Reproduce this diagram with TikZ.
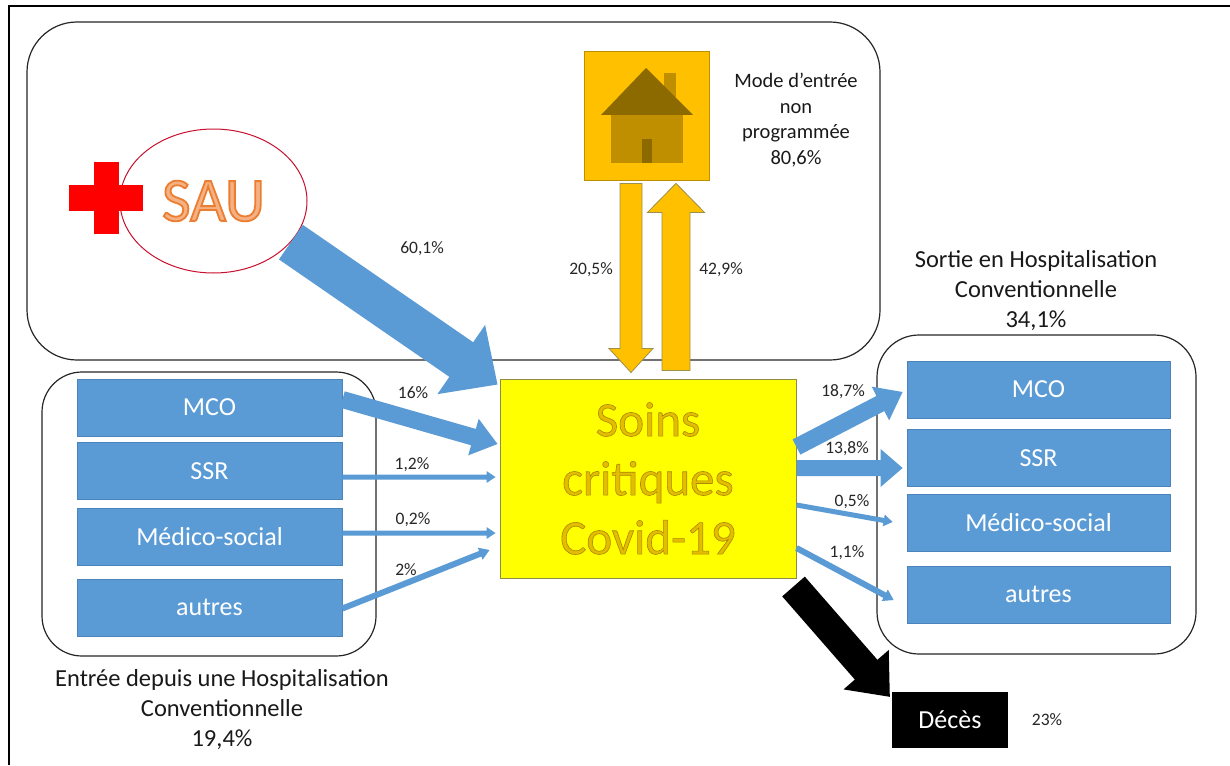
\documentclass[tikz,border=0pt]{standalone}
\usepackage{fontspec}
\setmainfont{Carlito}
\usetikzlibrary{calc,shapes.geometric}
\definecolor{bluebox}{HTML}{5B9BD5}
\definecolor{blueedge}{HTML}{4A84BA}
\definecolor{gold}{HTML}{FFC000}
\definecolor{goldedge}{HTML}{9C8F4A}
\definecolor{roof}{HTML}{8C6A00}
\definecolor{housebody}{HTML}{BF8F00}
\definecolor{soinsyellow}{HTML}{FFFF00}
\definecolor{soinsedge}{HTML}{8C8C46}
\definecolor{soinstext}{HTML}{E4BC00}
\definecolor{saufill}{HTML}{F4B183}
\definecolor{crossred}{HTML}{FF0000}
\definecolor{ellred}{HTML}{C8102E}
\newcommand\outlinetext[3]{\special{pdf:literal direct #1 RG #2 w 2 Tr}#3\special{pdf:literal direct 0 Tr}}
% style, from, to, half shaft, half head, head length
\newcommand\blockarrow[6]{%
  \coordinate (ba-h) at ($(#3)!#6!(#2)$);
  \path[#1] ($(#2)!#4!90:(#3)$) -- ($(ba-h)!#4!90:(#3)$) -- ($(ba-h)!#5!90:(#3)$) -- (#3)
    -- ($(ba-h)!#5!-90:(#3)$) -- ($(ba-h)!#4!-90:(#3)$) -- ($(#2)!#4!-90:(#3)$) -- cycle;}
\tikzset{
  roundbox/.style={draw=black!85, line width=1.2pt, rounded corners=#1, inner sep=0pt},
  bluebox/.style={fill=bluebox, draw=blueedge, line width=0.8pt, text=white, inner sep=0pt,
    minimum width=265pt, minimum height=57pt, font=\fontsize{26}{30}\selectfont},
  bluearrow/.style={fill=bluebox},
  orangearrow/.style={fill=gold, draw=goldedge, line width=0.8pt},
  blackarrow/.style={fill=black},
  pct/.style={font=\fontsize{17.5}{20}\selectfont, text=black!85, inner sep=0pt},
  caption/.style={font=\fontsize{24.5}{30}\selectfont, text=black!90, align=center, inner sep=0pt},
}
\begin{document}
\begin{tikzpicture}[x=1pt,y=-1pt]
\useasboundingbox (0,0) rectangle (1230,765);
\fill[white] (0,0) rectangle (1230,765);
% outer frame (left and top visible)
\draw[line width=2pt] (9,765) -- (9,6) -- (1230,6);

% group boxes
\node[roundbox=50pt, minimum width=853pt, minimum height=338pt] (topbox) at (453.5,191) {};
\node[roundbox=40pt, minimum width=334pt, minimum height=284pt] (leftbox) at (209,514) {};
\node[roundbox=42pt, minimum width=319pt, minimum height=319pt] (rightbox) at (1036.5,494.5) {};

% SAU
\node[ellipse, draw=ellred, line width=1pt, minimum width=187pt, minimum height=144pt, inner sep=0pt,
  font=\fontsize{62}{64}\selectfont] (sau) at (213.5,201)
  {\color{saufill}\outlinetext{0.93 0.49 0.19}{1.8}{SAU}};
\fill[crossred] (69,185) rectangle (143,211);
\fill[crossred] (94,162) rectangle (119,234);

% house
\node[fill=gold, draw=housebody, line width=0.8pt, minimum width=125pt, minimum height=129pt, inner sep=0pt] (house) at (646.5,115.5) {};
\fill[housebody] (664,73) rectangle (676,97);
\fill[roof] (601,115) -- (646,68) -- (693,115) -- cycle;
\fill[housebody] (611,115) rectangle (683,163);
\fill[roof] (642,139) rectangle (652,163);

\node[font=\fontsize{20.5}{25.5}\selectfont, text=black!90, align=center, inner sep=0pt] (modetext) at (796,120)
  {Mode d’entrée\\non\\programmée\\80,6\%};

% central box
\node[fill=soinsyellow, draw=soinsedge, line width=1pt, minimum width=296pt, minimum height=199pt, inner sep=0pt,
  align=center, font=\fontsize{49}{59}\selectfont] (soins) at (648,478.5)
  {\color{soinstext}\outlinetext{0.66 0.54 0.0}{0.6}{Soins}\\
   \color{soinstext}\outlinetext{0.66 0.54 0.0}{0.6}{critiques}\\
   \color{soinstext}\outlinetext{0.66 0.54 0.0}{0.6}{Covid-19}};

% left boxes
\node[bluebox] (lmco) at (209.5,407.5) {MCO};
\node[bluebox] (lssr) at (209.5,471) {SSR};
\node[bluebox] (lmed) at (209.5,536.5) {Médico-social};
\node[bluebox] (laut) at (209.5,607.5) {autres};
% right boxes
\node[bluebox, minimum width=263pt] (rmco) at (1038.5,389.5) {MCO};
\node[bluebox, minimum width=263pt] (rssr) at (1038.5,458) {SSR};
\node[bluebox, minimum width=263pt] (rmed) at (1038.5,523) {Médico-social};
\node[bluebox, minimum width=263pt] (raut) at (1038.5,594.5) {autres};
% deces
\node[fill=black, text=white, minimum width=116pt, minimum height=56pt, inner sep=0pt,
  font=\fontsize{26}{30}\selectfont] (deces) at (950,720) {Décès};

% captions
\node[caption] (captleft) at (222,710) {Entrée depuis une Hospitalisation\\Conventionnelle\\19,4\%};
\node[caption] (captright) at (1036,291) {Sortie en Hospitalisation\\Conventionnelle\\34,1\%};

% connector end points
\coordinate (a1s) at (sau.-28);
\coordinate (a1e) at ($(soins.north west)+(-2,6)$);
\coordinate (a2s) at ($(house.south)+(-15.5,3)$);
\coordinate (a2e) at ($(soins.north)+(-17,-6)$);
\coordinate (a3s) at ($(soins.north)+(28,-8)$);
\coordinate (a3e) at ($(house.south)+(29.5,3)$);
\coordinate (l1s) at ($(lmco.east)+(0,-8)$);
\coordinate (l1e) at ($(soins.west)+(-2,-34.5)$);
\coordinate (l2s) at ($(lssr.east)+(0,6)$);
\coordinate (l2e) at ($(soins.west)+(-4,-1.5)$);
\coordinate (l3s) at ($(lmed.east)+(0,-3.5)$);
\coordinate (l3e) at ($(soins.west)+(-4,54.5)$);
\coordinate (l4s) at ($(laut.east)+(0,1)$);
\coordinate (l4e) at ($(soins.west)+(-10,71.5)$);
\coordinate (r1s) at ($(soins.east)+(0,-31.5)$);
\coordinate (r1e) at ($(rmco.west)+(-4,2.5)$);
\coordinate (r2s) at ($(soins.east)+(0,-10.5)$);
\coordinate (r2e) at ($(rssr.west)+(-4,10)$);
\coordinate (r3s) at ($(soins.east)+(0,26.5)$);
\coordinate (r3e) at ($(rmed.west)+(-14,-1)$);
\coordinate (r4s) at ($(soins.east)+(0,69.5)$);
\coordinate (r4e) at ($(raut.west)+(-13,5.5)$);
\coordinate (d1s) at ($(soins.south east)+(-3,8)$);
\coordinate (d1e) at ($(deces.north west)+(-2,5)$);

% connectors
\blockarrow{bluearrow}{a1s}{a1e}{21pt}{42pt}{44pt}
\blockarrow{orangearrow}{a2s}{a2e}{11pt}{22pt}{24pt}
\blockarrow{orangearrow}{a3s}{a3e}{14pt}{28.5pt}{29pt}
\blockarrow{bluearrow}{l1s}{l1e}{8.5pt}{19pt}{25pt}
\blockarrow{bluearrow}{l2s}{l2e}{2.5pt}{6pt}{9pt}
\blockarrow{bluearrow}{l3s}{l3e}{2.5pt}{6pt}{9pt}
\blockarrow{bluearrow}{l4s}{l4e}{3pt}{6.5pt}{10pt}
\blockarrow{bluearrow}{r1s}{r1e}{8.5pt}{19pt}{25pt}
\blockarrow{bluearrow}{r2s}{r2e}{8pt}{19pt}{22pt}
\blockarrow{bluearrow}{r3s}{r3e}{2.5pt}{6pt}{9pt}
\blockarrow{bluearrow}{r4s}{r4e}{3pt}{6.5pt}{10pt}
\blockarrow{blackarrow}{d1s}{d1e}{15pt}{30pt}{36pt}

% percentages
\node[pct] (p601) at (422,249) {60,1\%};
\node[pct] (p205) at (591,270) {20,5\%};
\node[pct] (p429) at (721,270) {42,9\%};
\node[pct] (p16) at (413,393) {16\%};
\node[pct] (p12) at (412,465) {1,2\%};
\node[pct] (p02) at (413,520) {0,2\%};
\node[pct] (p2) at (406,570) {2\%};
\node[pct] (p187) at (843,392) {18,7\%};
\node[pct] (p138) at (847,449) {13,8\%};
\node[pct] (p05) at (852,502) {0,5\%};
\node[pct] (p11) at (847,553) {1,1\%};
\node[pct] (p23) at (1047,720) {23\%};
\end{tikzpicture}
\end{document}
